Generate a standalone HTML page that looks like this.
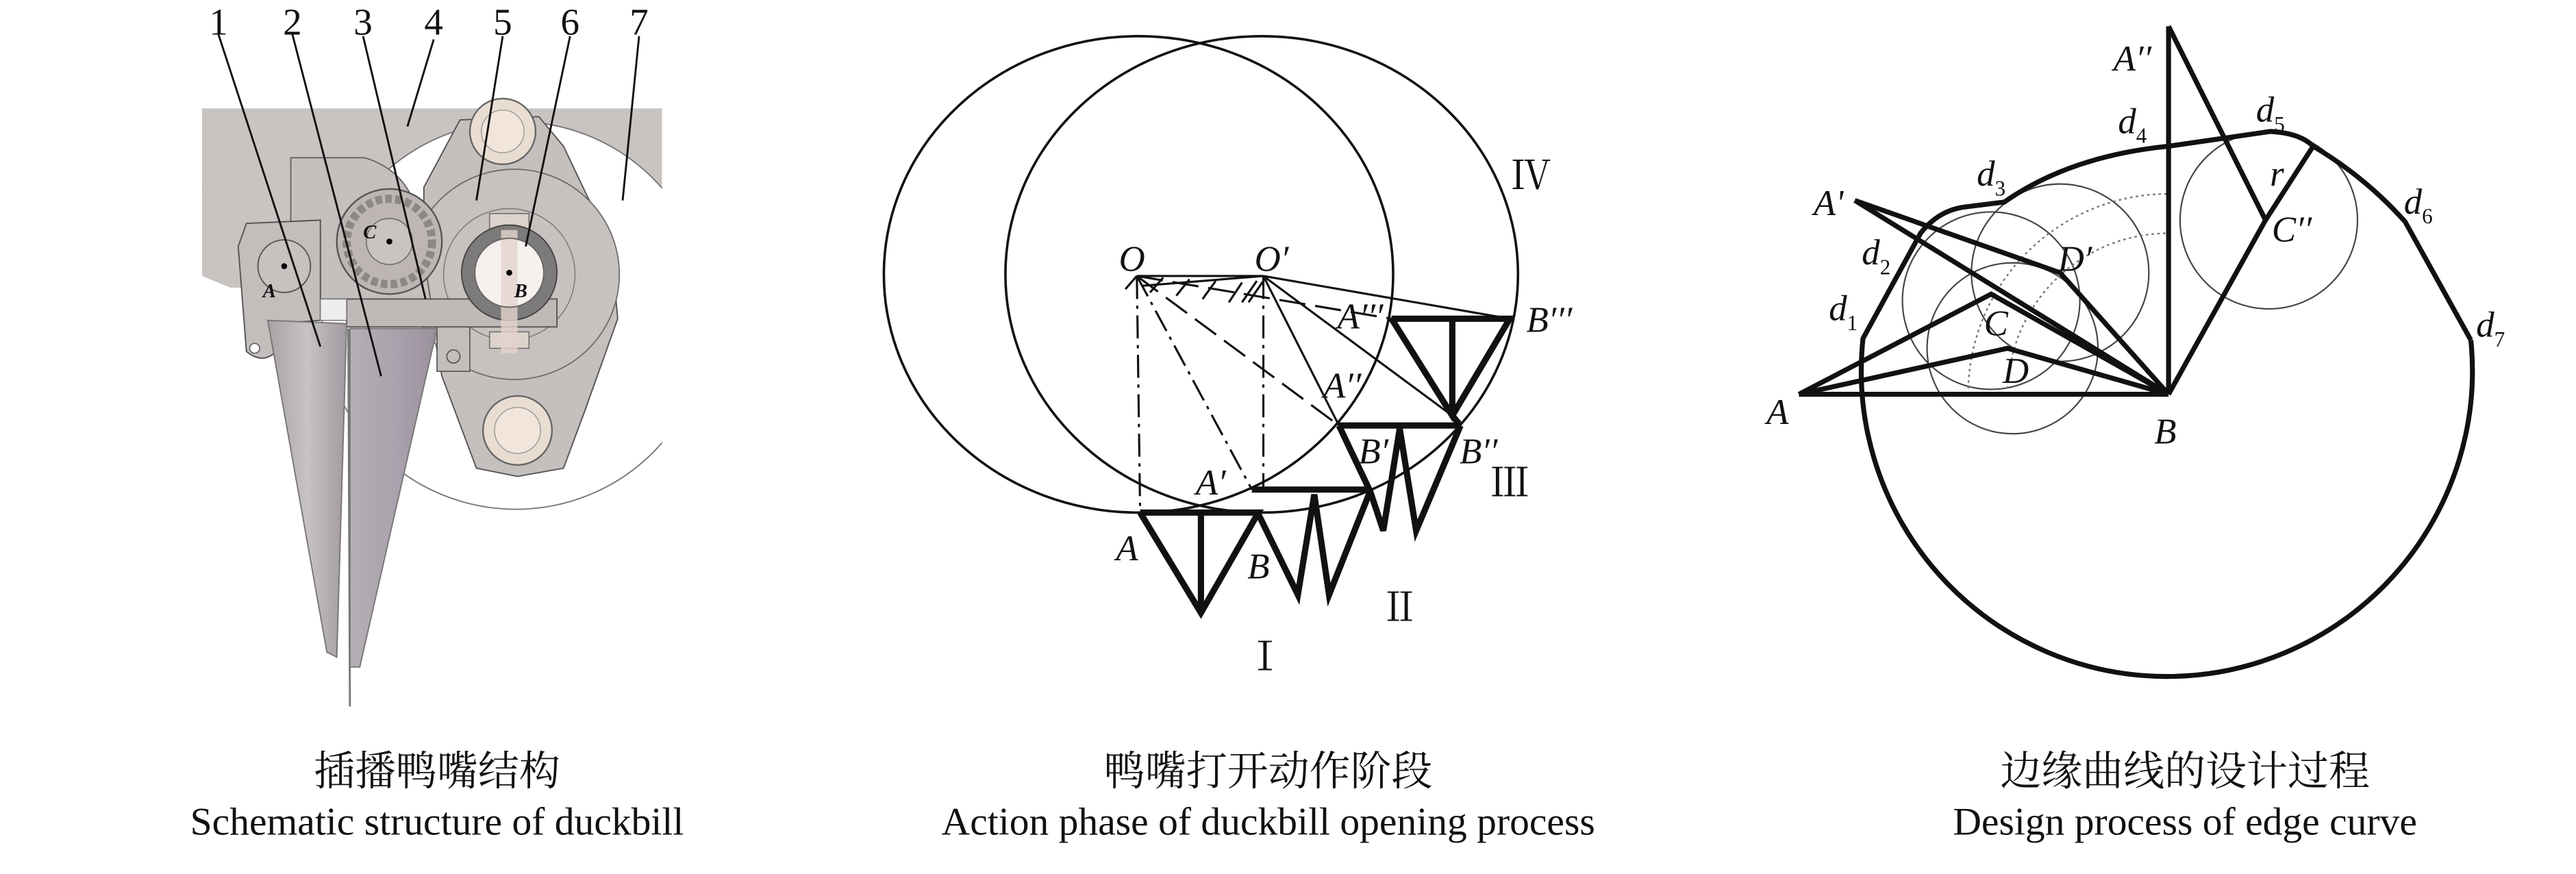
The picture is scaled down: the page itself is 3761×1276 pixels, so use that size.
<!DOCTYPE html>
<html><head><meta charset="utf-8"><style>
html,body{margin:0;padding:0;background:#fff;}
svg{display:block;}
text{font-family:"Liberation Serif","Noto Serif CJK SC",serif;fill:#111;}
.it{font-style:italic;}
</style></head><body>
<svg width="3761" height="1276" viewBox="0 0 1568 532" preserveAspectRatio="none" xmlns="http://www.w3.org/2000/svg">
<defs>
<clipPath id="c1"><rect x="0" y="0" width="403" height="532"/></clipPath>
<linearGradient id="cone" x1="0" x2="1"><stop offset="0" stop-color="#a9a2a5"/><stop offset="0.5" stop-color="#c8c2c4"/><stop offset="1" stop-color="#a19aa0"/></linearGradient>
<linearGradient id="cone2" x1="0" x2="1"><stop offset="0" stop-color="#b6afb4"/><stop offset="0.6" stop-color="#a89fab"/><stop offset="1" stop-color="#9a919c"/></linearGradient>
</defs>
<!-- PANEL 1 -->
<g clip-path="url(#c1)">
<path d="M123,66 L403,66 L403,118 L123,118 Z" fill="#c9c4c2"/>
<path d="M123,110 L260,110 L230,178 L140,175 L123,168 Z" fill="#c9c4c2"/>
<circle cx="314" cy="192" r="118" fill="#fff" stroke="#777" stroke-width="0.8"/>
<polygon points="280,73 328,71 343,89 372,150 376,194 356,250 343,285 315,290 290,285 269,229 258,170 258,114" fill="#c5bfbd" stroke="#555" stroke-width="0.8"/>
<circle cx="313" cy="167" r="64" fill="#c7c1bf" stroke="#666" stroke-width="0.7"/>
<circle cx="310" cy="167" r="40" fill="none" stroke="#777" stroke-width="0.6"/>
<circle cx="306" cy="80" r="20" fill="#e9ddd2" stroke="#666" stroke-width="1"/>
<circle cx="306" cy="80" r="13" fill="#f2e6dc" stroke="#999" stroke-width="0.6"/>
<circle cx="315" cy="262" r="21" fill="#e9ddd2" stroke="#666" stroke-width="1"/>
<circle cx="315" cy="262" r="14" fill="#f2e6dc" stroke="#999" stroke-width="0.6"/>
</g>
<path d="M177,96 L222,96 Q248,104 254,130 L262,182 L195,182 L195,140 L177,140 Z" fill="#c5bfbd" stroke="#666" stroke-width="0.8"/>
<circle cx="237" cy="147" r="32" fill="#bdb6b4" stroke="#555" stroke-width="1"/>
<circle cx="237" cy="147" r="26" fill="none" stroke="#8d8786" stroke-width="5" stroke-dasharray="4 2"/>
<circle cx="237" cy="147" r="14" fill="#c9c3c1" stroke="#666" stroke-width="0.6"/>
<rect x="211" y="182" width="128" height="17" fill="#bfb9b7" stroke="#555" stroke-width="0.8"/>
<rect x="266" y="199" width="20" height="27" fill="#c3bdbb" stroke="#555" stroke-width="0.7"/>
<circle cx="276" cy="217" r="4" fill="none" stroke="#555" stroke-width="0.7"/>
<rect x="298" y="130" width="24" height="10" fill="#ddd3cc" stroke="#666" stroke-width="0.6"/>
<rect x="298" y="202" width="24" height="10" fill="#ddd3cc" stroke="#666" stroke-width="0.6"/>
<circle cx="310" cy="166" r="29" fill="#7d7a7a" stroke="#444" stroke-width="0.8"/>
<circle cx="310" cy="166" r="21" fill="#f6f0ee"/>
<rect x="305" y="140" width="10" height="75" fill="#e4d3cc" opacity="0.8"/>
<circle cx="310" cy="166" r="21" fill="none" stroke="#666" stroke-width="0.8"/>
<path d="M150,136 L195,134 L195,195 L168,197 L168,214 Q160,222 150,214 L145,150 Z" fill="#c3bdbb" stroke="#555" stroke-width="0.8"/>
<circle cx="155" cy="212" r="3" fill="#fff" stroke="#555" stroke-width="0.6"/>
<circle cx="173" cy="162" r="16" fill="#c7c1bf" stroke="#555" stroke-width="0.8"/>
<rect x="195" y="182" width="16" height="13" fill="#eee" stroke="#777" stroke-width="0.6"/>
<polygon points="163,195 211,197 205,400 199,397" fill="url(#cone)" stroke="#777" stroke-width="0.8"/>
<polygon points="213,200 266,200 219,406 213,406" fill="url(#cone2)" stroke="#777" stroke-width="0.8"/>
<line x1="212" y1="200" x2="213" y2="430" stroke="#777" stroke-width="1.2"/>
<g stroke="#111" stroke-width="1.2">
<line x1="133" y1="21" x2="195" y2="211"/><line x1="178" y1="21" x2="232" y2="229"/>
<line x1="221" y1="22" x2="259" y2="182"/><line x1="264" y1="24" x2="248" y2="77"/>
<line x1="306" y1="22" x2="290" y2="122"/><line x1="347" y1="22" x2="320" y2="150"/>
<line x1="389" y1="22" x2="379" y2="122"/>
</g>
<circle cx="173" cy="162" r="1.8" fill="#000"/><circle cx="237" cy="147" r="1.8" fill="#000"/><circle cx="310" cy="166" r="1.8" fill="#000"/>
<text class="it" x="160" y="181" font-size="12" font-weight="bold">A</text>
<text class="it" x="221" y="145" font-size="12" font-weight="bold">C</text>
<text class="it" x="313" y="181" font-size="12" font-weight="bold">B</text>
<g font-size="23" text-anchor="middle">
<text x="133" y="21">1</text><text x="178" y="21">2</text><text x="221" y="21">3</text><text x="264" y="21">4</text><text x="306" y="21">5</text><text x="347" y="21">6</text><text x="389" y="21">7</text>
</g>
<!-- PANEL 2 -->
<g fill="none" stroke="#111">
<ellipse cx="693" cy="167" rx="155" ry="145" stroke-width="1.5"/>
<ellipse cx="768" cy="167" rx="156" ry="145" stroke-width="1.5"/>
<g stroke-width="1.3">
<line x1="692" y1="168" x2="769" y2="168"/>
<line x1="685" y1="176" x2="692" y2="168"/>
<line x1="692" y1="168" x2="694" y2="312" stroke-dasharray="14 4 2 4"/>
<line x1="769" y1="168" x2="769" y2="298" stroke-dasharray="14 4 2 4"/>
<line x1="692" y1="168" x2="762" y2="298" stroke-dasharray="14 4 2 4"/>
<line x1="692" y1="168" x2="815" y2="259" stroke-dasharray="16 6"/>
<line x1="692" y1="168" x2="847" y2="194" stroke-dasharray="16 6"/>
<line x1="769" y1="168" x2="815" y2="259"/>
<line x1="769" y1="168" x2="884" y2="253"/>
<line x1="769" y1="168" x2="919" y2="194"/>
<line x1="769" y1="168" x2="695" y2="174"/>
<path d="M700,178 l8,-9 M716,180 l8,-10 M732,182 l8,-11 M748,184 l8,-12 M756,184 l9,-13 M760,184 l9,-13"/>
</g>
<g stroke-width="3.8" stroke-linejoin="miter">
<polyline points="694,312 766,312 731,373 694,312"/><line x1="731" y1="312" x2="731" y2="373"/>
<polyline points="762,298 834,298"/>
<polyline points="766,313 790,362 800,301 809,362 834,299"/>
<polyline points="815,259 889,259"/>
<polyline points="815,259 834,299 842,323 852,261 862,323 889,259"/>
<polyline points="847,194 919,194 884,253 847,194"/><line x1="884" y1="194" x2="884" y2="253"/>
<line x1="884" y1="253" x2="889" y2="259"/>
</g>
</g>
<g class="it" font-size="22" text-anchor="middle">
<text x="689" y="165">O</text><text x="774" y="165">O′</text>
<text x="828" y="200">A′′′</text><text x="943" y="202">B′′′</text>
<text x="817" y="242">A′′</text><text x="836" y="282">B′</text><text x="900" y="282">B′′</text>
<text x="737" y="301">A′</text><text x="686" y="341">A</text><text x="766" y="352">B</text>
</g>
<g font-size="24" text-anchor="middle">
<text x="770" y="408">Ⅰ</text><text x="852" y="378">Ⅱ</text><text x="919" y="302">Ⅲ</text><text x="932" y="115">Ⅳ</text>
</g>
<!-- PANEL 3 -->
<g fill="none" stroke="#111">
<g stroke-width="0.9" stroke="#444">
<circle cx="1212" cy="183" r="54"/><circle cx="1225" cy="212" r="52"/><circle cx="1254" cy="166" r="54"/><circle cx="1381" cy="134" r="54"/>
</g>
<g stroke-width="1" stroke="#777" stroke-dasharray="1.5 2">
<path d="M1222,240 A98,98 0 0 1 1320,142"/>
<path d="M1198,240 A122,122 0 0 1 1320,118"/>
</g>
<g stroke-width="3">
<path d="M1504,207 A186,186 0 1 1 1134,206 L1169,142 Q1180,128 1196,126 L1220,123 Q1260,95 1320,89 L1382,80 Q1400,81 1408,89 Q1440,108 1464,135 L1504,207"/>
<line x1="1095" y1="240" x2="1320" y2="240"/>
<polyline points="1095,240 1212,179 1320,240"/>
<polyline points="1095,240 1222,212 1320,240"/>
<polyline points="1129,122 1254,166 1320,240"/>
<line x1="1129" y1="122" x2="1320" y2="240"/>
<line x1="1320" y1="240" x2="1320" y2="16"/>
<polyline points="1320,16 1379,134 1320,240"/>
<line x1="1379" y1="134" x2="1408" y2="89"/>
</g>
</g>
<g class="it" font-size="22" text-anchor="middle">
<text x="1298" y="43">A′′</text><text x="1298" y="81">d<tspan font-size="13" font-style="normal" dy="6">4</tspan></text>
<text x="1382" y="74">d<tspan font-size="13" font-style="normal" dy="6">5</tspan></text>
<text x="1386" y="113">r</text>
<text x="1212" y="113">d<tspan font-size="13" font-style="normal" dy="6">3</tspan></text>
<text x="1113" y="131">A'</text><text x="1263" y="165">D′</text><text x="1395" y="147">C′′</text>
<text x="1472" y="130">d<tspan font-size="13" font-style="normal" dy="6">6</tspan></text>
<text x="1142" y="161">d<tspan font-size="13" font-style="normal" dy="6">2</tspan></text>
<text x="1122" y="195">d<tspan font-size="13" font-style="normal" dy="6">1</tspan></text>
<text x="1215" y="204">C</text><text x="1227" y="233">D</text>
<text x="1516" y="205">d<tspan font-size="13" font-style="normal" dy="6">7</tspan></text>
<text x="1082" y="258">A</text><text x="1318" y="270">B</text>
</g>
<!-- CAPTIONS -->
<g font-size="24" text-anchor="middle">
<text x="266" y="478" font-size="25">插播鸭嘴结构</text>
<text x="266" y="508">Schematic structure of duckbill</text>
<text x="772" y="478" font-size="25">鸭嘴打开动作阶段</text>
<text x="772" y="508">Action phase of duckbill opening process</text>
<text x="1330" y="478" font-size="25">边缘曲线的设计过程</text>
<text x="1330" y="508">Design process of edge curve</text>
</g>
</svg>
</body></html>
